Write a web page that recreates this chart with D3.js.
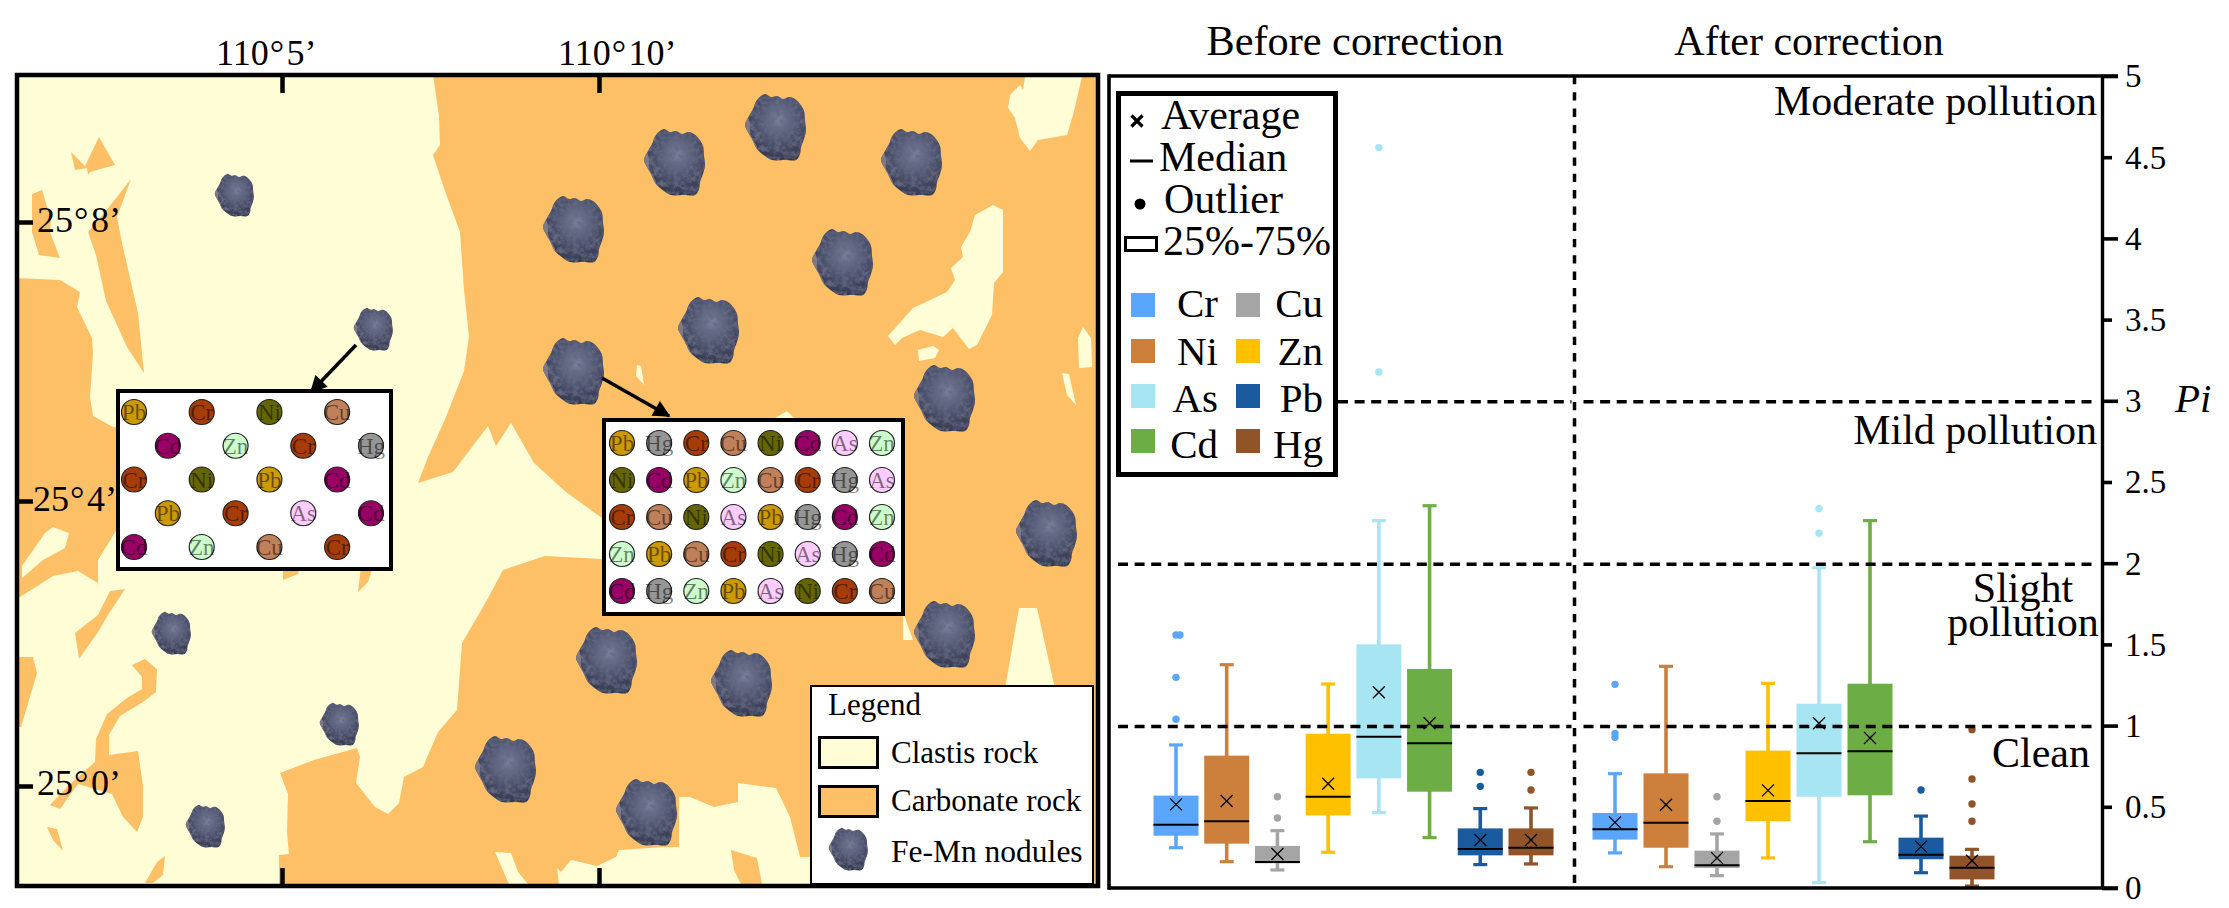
<!DOCTYPE html>
<html>
<head>
<meta charset="utf-8">
<title>Fe-Mn nodules and Pi</title>
<script src="https://cdn.jsdelivr.net/npm/d3@7"></script>
<style>
  body { margin: 0; background: #fff; }
  text { font-family: "Liberation Serif", serif; fill: #000; }
</style>
</head>
<body>
<div id="chart"></div>
<script>
//-------------------------------------------------------------------------------
// Data: box plots
const metals = ["Cr", "Ni", "Cu", "Zn", "As", "Cd", "Pb", "Hg"];
const metalColors = ["#5aa6fd", "#cc803c", "#a5a5a5", "#ffc000", "#a6e5f1", "#6dad46", "#195b9e", "#905428"];

const hiBefore = [0.881, 1.375, 0.353, 1.256, 2.262, 2.354, 0.489, 0.493];
const q3Before = [0.569, 0.815, 0.259, 0.950, 1.500, 1.349, 0.367, 0.367];
const medBefore = [0.390, 0.411, 0.160, 0.562, 0.932, 0.891, 0.240, 0.248];
const q1Before = [0.322, 0.273, 0.152, 0.447, 0.675, 0.593, 0.201, 0.201];
const loBefore = [0.248, 0.162, 0.111, 0.220, 0.464, 0.310, 0.144, 0.148];
const meanBefore = [0.515, 0.536, 0.209, 0.642, 1.205, 1.014, 0.296, 0.296];
const outBefore = [[1.558, 1.558, 1.297, 1.039], [], [0.562, 0.431], [], [4.559, 3.177], [], [0.712, 0.626], [0.712, 0.603]];

const hiAfter = [0.704, 1.365, 0.333, 1.260, 1.972, 2.262, 0.443, 0.238];
const q3After = [0.462, 0.706, 0.230, 0.846, 1.135, 1.258, 0.310, 0.199];
const medAfter = [0.361, 0.402, 0.140, 0.536, 0.829, 0.842, 0.205, 0.125];
const q1After = [0.298, 0.248, 0.123, 0.411, 0.562, 0.571, 0.177, 0.053];
const loAfter = [0.216, 0.131, 0.076, 0.185, 0.033, 0.285, 0.094, 0.012];
const meanAfter = [0.404, 0.513, 0.185, 0.601, 1.014, 0.924, 0.255, 0.168];
const outAfter = [[1.254, 0.952, 0.928], [], [0.562, 0.411], [], [2.336, 2.184], [], [0.603], [0.975, 0.671, 0.517, 0.411]];

const piTicks = [0, 0.5, 1, 1.5, 2, 2.5, 3, 3.5, 4, 4.5, 5];
const legendSymbols = ["Average", "Median", "Outlier", "25%-75%"];

//-------------------------------------------------------------------------------
// Data: map, outlines digitised against the scan of the sheet
const lonTicks = [5, 10];
const latTicks = [0, 4, 8];

const clastisMain = [[17,75],[433,75],[439,116],[440,145],[433,155],[445,191],[460,232],[464,290],[469,336],[464,371],[446,417],[428,457],[418,483],[453,472],[488,426],[496,446],[511,423],[534,463],[566,492],[602,518],[602,559],[545,556],[503,570],[487,600],[462,643],[457,710],[438,732],[423,767],[404,777],[399,803],[388,814],[375,807],[356,783],[360,757],[357,748],[314,760],[280,773],[288,794],[287,832],[289,854],[279,855],[279,886],[17,886]];
const carbonateOnClastis = [
  [[71,152],[85,166],[99,137],[115,165],[90,172],[88,175],[87,168],[75,170]],
  [[32,194],[42,190],[51,220],[50,232],[60,258],[39,255],[32,232]],
  [[131,179],[117,217],[122,243],[138,313],[144,373],[127,347],[106,301],[96,255],[88,232],[106,211]],
  [[17,278],[60,280],[80,292],[77,307],[92,338],[93,354],[90,397],[93,416],[113,427],[120,427],[120,529],[117,529],[98,560],[98,583],[78,571],[53,576],[20,597],[17,597]],
  [[125,589],[110,591],[98,615],[75,633],[79,659],[98,632],[108,615]],
  [[17,657],[33,657],[37,673],[21,727],[17,727]],
  [[132,665],[145,659],[157,669],[156,692],[143,702],[120,716],[109,735],[109,755],[138,751],[143,786],[143,817],[137,832],[123,817],[112,794],[78,784],[60,809],[50,805],[68,786],[95,762],[96,739],[107,714],[127,698],[142,689],[142,677]],
  [[47,827],[57,829],[63,851],[53,840]],
  [[145,883],[157,862],[165,856],[163,875],[153,883]],
  [[283,566],[300,566],[298,574],[283,580]],
  [[361,566],[373,566],[368,582],[358,592]]
];
const clastisOnCarbonate = [
  [[22,566],[45,533],[53,527],[69,533],[65,548],[43,560],[22,578]],
  [[1025,77],[1082,77],[1073,115],[1067,135],[1038,140],[1030,151],[1020,138],[1015,118],[1008,108],[1010,95],[1020,85],[1023,90]],
  [[993,205],[1003,210],[1003,272],[994,283],[992,315],[977,345],[969,349],[953,328],[943,337],[920,330],[902,338],[895,345],[888,336],[913,308],[947,292],[955,280],[951,268],[963,257],[961,247],[970,232],[975,215]],
  [[918,350],[933,346],[939,350],[935,358],[919,361]],
  [[1083,327],[1091,338],[1092,367],[1079,368],[1078,338]],
  [[1062,373],[1069,374],[1076,405],[1067,395]],
  [[637,365],[641,366],[644,385],[636,376]],
  [[770,421],[787,411],[797,421]],
  [[1019,608],[1037,608],[1055,689],[1005,689]],
  [[903,612],[913,640],[903,640]],
  [[495,852],[511,853],[518,872],[528,884],[509,884]],
  [[557,868],[561,872],[571,860],[580,862],[597,866],[616,857],[619,850],[666,847],[679,847],[679,797],[690,797],[714,807],[738,802],[738,783],[776,788],[790,817],[800,857],[812,857],[812,884],[762,884],[757,858],[731,850],[734,870],[741,884],[559,884]]
];

const bigNodules = [[674,162],[775,127],[911,162],[573,229],[842,262],[708,330],[573,371],[944,398],[1046,533],[944,634],[606,660],[741,683],[505,769],[646,812]];
const smallNodules = [[234,195],[373,329],[171,633],[339,724],[205,826]];
const noduleOutline = [[-10,-33],[-4,-30],[2,-31],[8,-28],[14,-30],[20,-28],[25,-23],[29,-16],[30,-6],[31,3],[29,12],[26,20],[25,27],[21,33],[10,33],[-3,33],[-10,29],[-18,22],[-23,12],[-27,5],[-30,-2],[-27,-9],[-22,-18],[-18,-27]];
const noduleEdge = [[-30,-2],[-27,-9],[-25,-2],[-25,6],[-18,20],[-18,22],[-23,12],[-27,5]];

const elementColors = { Pb: "#cc9900", Cr: "#a63c08", Ni: "#666600", Cu: "#c0805a", Cd: "#990066", Zn: "#ccffcc", Hg: "#969696", As: "#ffccff" };
const insetLeftRows = [
  ["Pb", null, "Cr", null, "Ni", null, "Cu", null],
  [null, "Cd", null, "Zn", null, "Cr", null, "Hg"],
  ["Cr", null, "Ni", null, "Pb", null, "Cd", null],
  [null, "Pb", null, "Cr", null, "As", null, "Cd"],
  ["Cd", null, "Zn", null, "Cu", null, "Cr", null]
];
const insetRightRows = [
  ["Pb", "Hg", "Cr", "Cu", "Ni", "Cd", "As", "Zn"],
  ["Ni", "Cd", "Pb", "Zn", "Cu", "Cr", "Hg", "As"],
  ["Cr", "Cu", "Ni", "As", "Pb", "Hg", "Cd", "Zn"],
  ["Zn", "Pb", "Cu", "Cr", "Ni", "As", "Hg", "Cd"],
  ["Cd", "Hg", "Zn", "Pb", "As", "Ni", "Cr", "Cu"]
];

//-------------------------------------------------------------------------------
const svg = d3.select("#chart").append("svg")
    .attr("width", 2229)
    .attr("height", 908);

const clastisColor = "#fffdd6";
const carbonateColor = "#fdc067";

const defs = svg.append("defs");
const grad = defs.append("radialGradient")
    .attr("id", "rockFill")
    .attr("cx", "55%").attr("cy", "38%").attr("r", "62%");
grad.append("stop").attr("offset", "0%").attr("stop-color", "#7a809c");
grad.append("stop").attr("offset", "45%").attr("stop-color", "#555b78");
grad.append("stop").attr("offset", "100%").attr("stop-color", "#33374c");

const rock = defs.append("filter")
    .attr("id", "rockTexture")
    .attr("x", 0).attr("y", 0).attr("width", 1).attr("height", 1);
rock.append("feTurbulence")
    .attr("type", "fractalNoise")
    .attr("baseFrequency", 0.2)
    .attr("numOctaves", 3)
    .attr("seed", 7)
    .attr("result", "noise");
rock.append("feColorMatrix")
    .attr("in", "noise")
    .attr("type", "matrix")
    .attr("values", "0 0 0 0 0.13  0 0 0 0 0.14  0 0 0 0 0.22  2.6 0 0 0 -1.0")
    .attr("result", "dark");
rock.append("feComposite")
    .attr("in", "dark").attr("in2", "SourceAlpha").attr("operator", "in")
    .attr("result", "darkIn");
const rockMerge = rock.append("feMerge");
rockMerge.append("feMergeNode").attr("in", "SourceGraphic");
rockMerge.append("feMergeNode").attr("in", "darkIn");

defs.append("marker")
    .attr("id", "arrowHead")
    .attr("viewBox", "0 0 10 10")
    .attr("refX", 9).attr("refY", 5)
    .attr("markerUnits", "userSpaceOnUse")
    .attr("markerWidth", 19).attr("markerHeight", 17)
    .attr("orient", "auto")
  .append("path")
    .attr("d", "M0,0L10,5L0,10Z")
    .attr("fill", "#000");

//-------------------------------------------------------------------------------
// Map
const sheetX = d3.scaleLinear().domain([17, 1098]).range([17, 1098]);
const sheetY = d3.scaleLinear().domain([75, 886]).range([75, 886]);
const lonScale = d3.scaleLinear().domain([5, 10]).range([282, 599]);
const latScale = d3.scaleLinear().domain([0, 4, 8]).range([786, 501, 222]);

const outline = d3.line()
    .x(d => sheetX(d[0]))
    .y(d => sheetY(d[1]))
    .curve(d3.curveLinearClosed);

const mapLayer = svg.append("g");

mapLayer.append("rect")
    .attr("x", sheetX(17)).attr("y", sheetY(75))
    .attr("width", sheetX(1098) - sheetX(17))
    .attr("height", sheetY(886) - sheetY(75))
    .attr("fill", carbonateColor);

mapLayer.append("path").attr("d", outline(clastisMain)).attr("fill", clastisColor);

mapLayer.selectAll(".carb").data(carbonateOnClastis).enter().append("path")
    .attr("class", "carb")
    .attr("d", outline)
    .attr("fill", carbonateColor);

mapLayer.selectAll(".clast").data(clastisOnCarbonate).enter().append("path")
    .attr("class", "clast")
    .attr("d", outline)
    .attr("fill", clastisColor);

// one rock, placed at a given centre and scale
const rockLine = d3.line().curve(d3.curveCatmullRomClosed.alpha(0.5));
function drawNodule(parent, cx, cy, k) {
  const g = parent.append("g").attr("transform", `translate(${cx},${cy}) scale(${k})`);
  g.append("path").attr("d", rockLine(noduleOutline)).attr("fill", "url(#rockFill)").attr("filter", "url(#rockTexture)");
  g.append("path").attr("d", rockLine(noduleEdge)).attr("fill", "#93888c").attr("opacity", 0.75);
}
bigNodules.forEach(d => drawNodule(mapLayer, sheetX(d[0]), sheetY(d[1]), 1));
smallNodules.forEach(d => drawNodule(mapLayer, sheetX(d[0]), sheetY(d[1]), 0.64));

// arrows to the insets
mapLayer.append("line")
    .attr("x1", sheetX(356)).attr("y1", sheetY(345))
    .attr("x2", sheetX(311)).attr("y2", sheetY(392))
    .attr("stroke", "#000").attr("stroke-width", 3.5)
    .attr("marker-end", "url(#arrowHead)");
mapLayer.append("line")
    .attr("x1", sheetX(602)).attr("y1", sheetY(378))
    .attr("x2", sheetX(669)).attr("y2", sheetY(416))
    .attr("stroke", "#000").attr("stroke-width", 3.5)
    .attr("marker-end", "url(#arrowHead)");

// insets with the element circles
function drawInset(box, rows, xs, ys, r) {
  const g = mapLayer.append("g");
  g.append("rect")
      .attr("x", box[0]).attr("y", box[1])
      .attr("width", box[2] - box[0]).attr("height", box[3] - box[1])
      .attr("fill", "#fff").attr("stroke", "#000").attr("stroke-width", 4);
  const cells = [];
  rows.forEach((row, i) => row.forEach((el, j) => { if (el) cells.push({ el, i, j }); }));
  const cell = g.selectAll(".cell").data(cells).enter().append("g").attr("class", "cell")
      .attr("transform", d => `translate(${xs(d.j)},${ys(d.i)})`);
  cell.append("circle")
      .attr("r", r)
      .attr("fill", d => elementColors[d.el])
      .attr("stroke", "#222").attr("stroke-width", 1.2);
  cell.append("text")
      .attr("text-anchor", "middle")
      .attr("y", 8)
      .style("font-size", "23px")
      .style("fill", "#000")
      .style("fill-opacity", 0.5)
      .text(d => d.el);
}
const colIndex = d3.range(8);
const rowIndex = d3.range(5);
drawInset([118, 391, 391, 569], insetLeftRows,
    d3.scalePoint().domain(colIndex).range([134, 371]),
    d3.scalePoint().domain(rowIndex).range([412, 547]), 12.5);
drawInset([604, 420, 903, 614], insetRightRows,
    d3.scalePoint().domain(colIndex).range([622, 882]),
    d3.scalePoint().domain(rowIndex).range([443, 591]), 12.5);

// map legend
const mapLegend = svg.append("g");
mapLegend.append("rect")
    .attr("x", 811).attr("y", 686).attr("width", 282).attr("height", 198)
    .attr("fill", "#fff").attr("stroke", "#000").attr("stroke-width", 2);
mapLegend.append("text").attr("x", 828).attr("y", 715).style("font-size", "31px").text("Legend");
mapLegend.append("rect").attr("x", 819.5).attr("y", 737.5).attr("width", 58).attr("height", 30)
    .attr("fill", clastisColor).attr("stroke", "#000").attr("stroke-width", 3);
mapLegend.append("rect").attr("x", 819.5).attr("y", 786.5).attr("width", 58).attr("height", 30)
    .attr("fill", carbonateColor).attr("stroke", "#000").attr("stroke-width", 3);
mapLegend.append("text").attr("x", 891).attr("y", 763).style("font-size", "31px").text("Clastis rock");
mapLegend.append("text").attr("x", 891).attr("y", 811).style("font-size", "31px").text("Carbonate rock");
mapLegend.append("text").attr("x", 891).attr("y", 862).style("font-size", "31.5px").text("Fe-Mn nodules");
drawNodule(mapLegend, 848, 849, 0.64);

// frame + ticks
svg.append("rect")
    .attr("x", sheetX(17)).attr("y", sheetY(75))
    .attr("width", sheetX(1098) - sheetX(17))
    .attr("height", sheetY(886) - sheetY(75))
    .attr("fill", "none").attr("stroke", "#000").attr("stroke-width", 4.5);

const mapAxisTop = svg.append("g")
    .attr("transform", `translate(0,${sheetY(75)})`)
    .call(d3.axisBottom(lonScale).tickValues(lonTicks).tickSize(18).tickFormat(""));
const mapAxisBottom = svg.append("g")
    .attr("transform", `translate(0,${sheetY(886)})`)
    .call(d3.axisTop(lonScale).tickValues(lonTicks).tickSize(18).tickFormat(""));
const mapAxisLeft = svg.append("g")
    .attr("transform", `translate(${sheetX(17)},0)`)
    .call(d3.axisRight(latScale).tickValues(latTicks).tickSize(16).tickFormat(""));
[mapAxisTop, mapAxisBottom, mapAxisLeft].forEach(a => {
  a.select(".domain").remove();
  a.selectAll(".tick line").attr("stroke", "#000").attr("stroke-width", 4.5);
});

// the degree sign sits apart from the digits
function degreeLabel(sel, head, tail) {
  sel.append("tspan").text(head);
  sel.append("tspan").attr("dx", 1).text("°");
  sel.append("tspan").attr("dx", 2.5).text(tail);
}
svg.selectAll(".lonLabel").data(lonTicks).enter().append("text")
    .attr("class", "lonLabel")
    .attr("x", d => lonScale(d) - (d === 5 ? 66 : 41))
    .attr("y", 65)
    .style("font-size", "36px")
    .each(function(d) { degreeLabel(d3.select(this), "110", `${d}’`); });
svg.selectAll(".latLabel").data(latTicks).enter().append("text")
    .attr("class", "latLabel")
    .attr("x", d => d === 4 ? 33 : 37)
    .attr("y", d => latScale(d) + (d === 0 ? 9 : 10))
    .style("font-size", "36px")
    .each(function(d) { degreeLabel(d3.select(this), "25", `${d}’`); });

//-------------------------------------------------------------------------------
// Box plots
const panel = { left: 1109, right: 2102, top: 76, bottom: 888, split: 1574.5 };

const y = d3.scaleLinear().domain([0, 5]).range([panel.bottom, panel.top]);
const xBefore = d3.scalePoint().domain(metals).range([1176, 1531]);
const xAfter = d3.scalePoint().domain(metals).range([1615, 1972]);

const boxWidth = 45;
const capWidth = 14;

function makeRows(hi, q3, med, q1, lo, mean, out) {
  return metals.map((m, i) => ({
    metal: m, color: metalColors[i],
    hi: hi[i], q3: q3[i], med: med[i], q1: q1[i], lo: lo[i], mean: mean[i], out: out[i]
  }));
}
const rowsBefore = makeRows(hiBefore, q3Before, medBefore, q1Before, loBefore, meanBefore, outBefore);
const rowsAfter = makeRows(hiAfter, q3After, medAfter, q1After, loAfter, meanAfter, outAfter);

const plot = svg.append("g");

function drawBoxes(rows, x) {
  const box = plot.append("g").selectAll("g").data(rows).enter().append("g")
      .attr("transform", d => `translate(${x(d.metal)},0)`);

  box.append("line")
      .attr("y1", d => y(d.lo)).attr("y2", d => y(d.hi))
      .attr("stroke", d => d.color).attr("stroke-width", 3.6);
  box.append("line")
      .attr("x1", -capWidth / 2).attr("x2", capWidth / 2)
      .attr("y1", d => y(d.hi)).attr("y2", d => y(d.hi))
      .attr("stroke", d => d.color).attr("stroke-width", 3.2);
  box.append("line")
      .attr("x1", -capWidth / 2).attr("x2", capWidth / 2)
      .attr("y1", d => y(d.lo)).attr("y2", d => y(d.lo))
      .attr("stroke", d => d.color).attr("stroke-width", 3.2);
  box.append("rect")
      .attr("x", -boxWidth / 2).attr("width", boxWidth)
      .attr("y", d => y(d.q3))
      .attr("height", d => y(d.q1) - y(d.q3))
      .attr("fill", d => d.color);
  box.append("line")
      .attr("x1", -boxWidth / 2).attr("x2", boxWidth / 2)
      .attr("y1", d => y(d.med)).attr("y2", d => y(d.med))
      .attr("stroke", "#000").attr("stroke-width", 2);
  // repeated values sit side by side, as in the scan
  box.selectAll(".outlier")
    .data(d => d.out.map((v, i) => ({ v, color: d.color, shift: d.out.indexOf(v) !== i ? 4 : 0 })))
    .enter().append("circle")
      .attr("class", "outlier")
      .attr("cx", d => d.shift)
      .attr("cy", d => y(d.v))
      .attr("r", 3.7)
      .attr("fill", d => d.color);
  return box;
}
const boxesBefore = drawBoxes(rowsBefore, xBefore);
const boxesAfter = drawBoxes(rowsAfter, xAfter);

// pollution class lines
const classLines = [1, 2, 3];
const dashed = plot.append("g").attr("fill", "none").attr("stroke", "#000").attr("stroke-width", 3.5);
classLines.forEach(v => {
  dashed.append("line")
      .attr("x1", v === 3 ? 1338 : 1118).attr("x2", panel.split - 3)
      .attr("y1", y(v) + 1).attr("y2", y(v) + 1)
      .attr("stroke-dasharray", "10,6.6");
  dashed.append("line")
      .attr("x1", panel.split + 9).attr("x2", 2095)
      .attr("y1", y(v) + 1).attr("y2", y(v) + 1)
      .attr("stroke-dasharray", "10,6.6");
});
dashed.append("line")
    .attr("x1", panel.split).attr("x2", panel.split)
    .attr("y1", panel.top).attr("y2", panel.bottom)
    .attr("stroke-dasharray", "8.3,8");

// averages go on top of the lines
[boxesBefore, boxesAfter].forEach(box => {
  box.append("path")
      .attr("transform", d => `translate(0,${y(d.mean)})`)
      .attr("d", "M-6,-6L6,6M-6,6L6,-6")
      .attr("fill", "none").attr("stroke", "#000").attr("stroke-width", 1.3);
});

// frame and axis
const frame = svg.append("g").attr("stroke", "#000").attr("stroke-width", 3.6);
frame.append("line").attr("x1", panel.left).attr("x2", panel.left).attr("y1", panel.top - 1.8).attr("y2", panel.bottom + 1.8);
frame.append("line").attr("x1", panel.left).attr("x2", 2118).attr("y1", y(5)).attr("y2", y(5));
frame.append("line").attr("x1", panel.left).attr("x2", 2118).attr("y1", y(0)).attr("y2", y(0));

const piAxis = svg.append("g")
    .attr("transform", `translate(${panel.right},0)`)
    .call(d3.axisRight(y).tickValues(piTicks).tickSize(16).tickSizeOuter(0).tickPadding(7).tickFormat(d3.format("~g")));
piAxis.select(".domain").attr("stroke", "#000").attr("stroke-width", 3.4);
piAxis.selectAll(".tick line")
    .attr("stroke", "#000").attr("stroke-width", 3.6)
    .attr("x2", d => Number.isInteger(d) ? 16 : 10);
piAxis.selectAll(".tick text")
    .style("font-size", "33px")
    .style("font-family", "'Liberation Serif', serif")
    .attr("dy", "0.33em");

svg.append("text")
    .attr("x", 2175).attr("y", 412)
    .style("font-size", "41px").style("font-style", "italic")
    .text("Pi");

svg.append("text").attr("x", 1355).attr("y", 55).attr("text-anchor", "middle")
    .style("font-size", "42.3px").text("Before correction");
svg.append("text").attr("x", 1809).attr("y", 55).attr("text-anchor", "middle")
    .style("font-size", "42px").text("After correction");

// class names
const classNames = ["Moderate pollution", "Mild pollution", "Clean"];
const classRight = [2097, 2097, 2090];
const classBase = [115, 444, 767];
svg.selectAll(".className").data(classNames).enter().append("text")
    .attr("class", "className")
    .attr("x", (d, i) => classRight[i])
    .attr("y", (d, i) => classBase[i])
    .attr("text-anchor", "end")
    .style("font-size", "42px")
    .text(d => d);
const slight = svg.append("text").attr("y", 602).attr("text-anchor", "middle").style("font-size", "42px");
slight.append("tspan").attr("x", 2023).text("Slight");
slight.append("tspan").attr("x", 2023).attr("dy", 34).text("pollution");

// symbol + element legend
const lg = svg.append("g");
lg.append("rect")
    .attr("x", 1118.5).attr("y", 93.5).attr("width", 217).attr("height", 381)
    .attr("fill", "#fff").attr("stroke", "#000").attr("stroke-width", 5);

const symbolX = [1161, 1159, 1164, 1163];
const symbolBase = [129, 171, 213, 255];
lg.selectAll(".sym").data(legendSymbols).enter().append("text")
    .attr("class", "sym")
    .attr("x", (d, i) => symbolX[i])
    .attr("y", (d, i) => symbolBase[i])
    .style("font-size", "42px")
    .text(d => d);
lg.append("path").attr("d", "M1131.5,115.5L1142.5,126.5M1131.5,126.5L1142.5,115.5")
    .attr("stroke", "#000").attr("stroke-width", 3.2).attr("fill", "none");
lg.append("line").attr("x1", 1130).attr("x2", 1153).attr("y1", 161).attr("y2", 161)
    .attr("stroke", "#000").attr("stroke-width", 3);
lg.append("circle").attr("cx", 1140).attr("cy", 204).attr("r", 5.5).attr("fill", "#000");
lg.append("rect").attr("x", 1125.5).attr("y", 237.5).attr("width", 31).attr("height", 13)
    .attr("fill", "#fff").attr("stroke", "#000").attr("stroke-width", 3);

const keyOrder = ["Cr", "Ni", "As", "Cd", "Cu", "Zn", "Pb", "Hg"];
const keyTop = [293, 339, 384, 429];
const keyBase = [317, 365, 412, 458];
const key = lg.selectAll(".key").data(keyOrder).enter().append("g").attr("class", "key");
key.append("rect")
    .attr("x", (d, i) => i < 4 ? 1131 : 1236)
    .attr("y", (d, i) => keyTop[i % 4])
    .attr("width", 24).attr("height", 24)
    .attr("fill", d => metalColors[metals.indexOf(d)]);
key.append("text")
    .attr("x", (d, i) => i < 4 ? 1218 : 1323)
    .attr("y", (d, i) => keyBase[i % 4])
    .attr("text-anchor", "end")
    .style("font-size", "41px")
    .text(d => d);
</script>
</body>
</html>
